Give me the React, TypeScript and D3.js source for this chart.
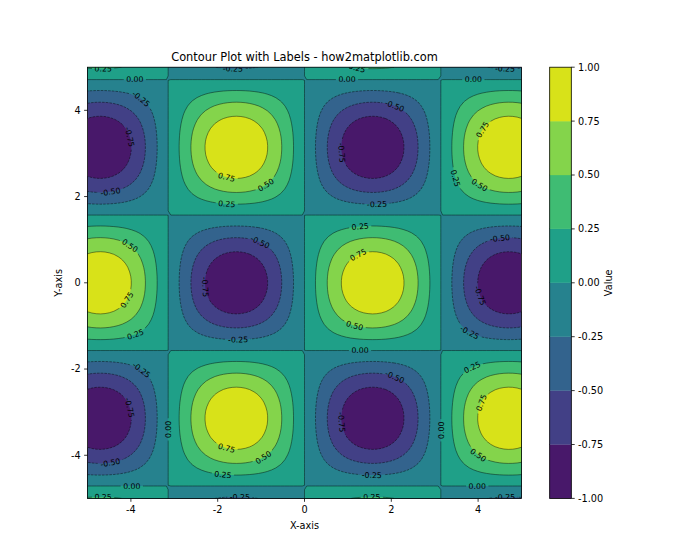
import React, { useMemo } from "react";
import * as d3 from "d3";

const WIDTH = 700;
const HEIGHT = 560;
const xDomain = [-5, 5];
const yDomain = [-5, 5];
const gridSize = 100;
const levels = [-1, -0.75, -0.5, -0.25, 0, 0.25, 0.5, 0.75, 1];
const lineLevels = [-0.75, -0.5, -0.25, 0, 0.25, 0.5, 0.75];
const xTicks = [-4, -2, 0, 2, 4];
const yTicks = [-4, -2, 0, 2, 4];
const cbTicks = [-1, -0.75, -0.5, -0.25, 0, 0.25, 0.5, 0.75, 1];
const titleText = "Contour Plot with Labels - how2matplotlib.com";
const xLabelText = "X-axis";
const yLabelText = "Y-axis";
const cbLabelText = "Value";

// Contour label anchors (data coordinates)
const labelLevels = [
  0.25, 0, -0.25, -0.75, -0.5, -0.25, 0.75, 0.5, 0.25, 0.25,
  0, 0, -0.5, -0.75, -0.25, 0.25, 0.75, 0.25, 0.5, -0.25,
  0.5, 0.75, 0.25, -0.5, -0.75, -0.25, 0.75, 0.5, 0, -0.5,
  -0.75, -0.25, -0.25, -0.75, -0.5, 0, 0.25, 0, 0.75, 0.5,
  0.25, -0.25, -0.5, -0.75, -0.25, 0.25, 0, 0.25, 0.75, 0.5,
  0, -0.25,
];
const labelXs = [
  -4.64, -3.91, -3.74, -3.98, -4.48, -1.65, -1.79, -0.91, -1.79, 1.21,
  0.98, 3.89, 2.09, 0.88, 1.67, 1.28, 4.09, 3.53, 4.04, 4.62,
  -3.98, -4.09, -3.91, -1.02, -2.25, -1.53, 1.21, 1.16, 1.28, 4.5,
  4.09, 3.81, -3.74, -3.98, -4.48, -3.98, -4.64, -3.1, -1.79, -0.98,
  -1.88, -1.49, 2.09, 0.88, 1.55, 1.55, 3.19, 3.86, 4.09, 4.0,
  3.98, 4.62,
];
const labelYs = [
  4.98, 4.77, 4.3, 3.4, 2.16, 4.98, 2.47, 2.3, 1.86, 4.98,
  4.77, 4.77, 4.14, 3.02, 1.86, 1.35, 3.56, 2.44, 2.28, 4.98,
  0.93, -0.4, -1.16, 0.95, -0.09, -1.28, 0.7, -0.98, -1.53, 1.07,
  -0.28, -1.14, -2.0, -2.88, -4.14, -4.67, -4.97, -3.4, -3.81, -4.0,
  -4.44, -4.97, -2.16, -3.23, -4.44, -4.97, -3.42, -1.95, -2.79, -4.0,
  -4.67, -4.97,
];

const FONT = "DejaVu Sans, sans-serif";
const fmtLevel = (v: number) => (v < 0 ? "-" : "") + Math.abs(v).toFixed(2);
const fmtTick = (v: number) => (v < 0 ? "-" : "") + Math.abs(v).toString();

type Pt = [number, number];

export default function App() {
  const left = 87.5, right = 521.5, top = 67.2, bottom = 498.4;
  const cbLeft = 549.7, cbRight = 571.3;
  const x = d3.scaleLinear().domain(xDomain).range([left, right]);
  const y = d3.scaleLinear().domain(yDomain).range([bottom, top]);
  const cbY = d3.scaleLinear().domain([levels[0], levels[levels.length - 1]]).range([bottom, top]);

  const bandColors = d3.range(levels.length - 1).map((k) =>
    d3.interpolateViridis(((levels[k] + levels[k + 1]) / 2 - levels[0]) / (levels[levels.length - 1] - levels[0]))
  );

  const computed = useMemo(() => {
    const stepX = (xDomain[1] - xDomain[0]) / (gridSize - 1);
    const stepY = (yDomain[1] - yDomain[0]) / (gridSize - 1);
    const gxs = d3.range(gridSize).map((i) => xDomain[0] + i * stepX);
    const gys = d3.range(gridSize).map((j) => yDomain[0] + j * stepY);
    const values: number[] = new Array(gridSize * gridSize);
    for (let j = 0; j < gridSize; j++)
      for (let i = 0; i < gridSize; i++) values[j * gridSize + i] = Math.sin(gxs[i]) * Math.cos(gys[j]);
    const gen = d3.contours().size([gridSize, gridSize]);
    const toPx = (p: number[]): Pt => [
      x(xDomain[0] + (p[0] - 0.5) * stepX),
      y(yDomain[0] + (p[1] - 0.5) * stepY),
    ];
    const ringsFor = (t: number): Pt[][] => {
      const c = gen.contour(values, t);
      const rings: Pt[][] = [];
      c.coordinates.forEach((poly: number[][][]) => poly.forEach((ring) => rings.push(ring.map(toPx))));
      return rings;
    };
    const ringPath = (rings: Pt[][]) =>
      rings.map((r) => "M" + r.map((p) => p[0].toFixed(2) + "," + p[1].toFixed(2)).join("L") + "Z").join("");

    const fills = d3.range(1, levels.length - 1).map((k) => ({
      color: bandColors[k],
      d: ringPath(ringsFor(levels[k])),
    }));
    const lineRings = new Map<number, Pt[][]>();
    lineLevels.forEach((lv) => lineRings.set(lv, ringsFor(lv)));
    const lines = lineLevels.map((lv) => ({ level: lv, d: ringPath(lineRings.get(lv)!) }));

    const canvas = document.createElement("canvas");
    const ctx = canvas.getContext("2d")!;
    ctx.font = "7.78px DejaVu Sans";

    const inside = (p: Pt) => p[0] >= left - 1 && p[0] <= right + 1 && p[1] >= top - 1 && p[1] <= bottom + 1;
    const labels = labelLevels.map((lv, idx) => {
      const target: Pt = [x(labelXs[idx]), y(labelYs[idx])];
      const rings = lineRings.get(lv) || [];
      let best = Infinity;
      let bestPt: Pt = target;
      let bestRing: Pt[] | null = null;
      let bestIdx = 0;
      rings.forEach((r) => {
        for (let i = 0; i < r.length - 1; i++) {
          const a = r[i], b = r[i + 1];
          if (!inside(a) || !inside(b)) continue;
          const dx = b[0] - a[0], dy = b[1] - a[1];
          const len2 = dx * dx + dy * dy || 1e-9;
          let t = ((target[0] - a[0]) * dx + (target[1] - a[1]) * dy) / len2;
          t = Math.max(0, Math.min(1, t));
          const p: Pt = [a[0] + t * dx, a[1] + t * dy];
          const d2 = (p[0] - target[0]) ** 2 + (p[1] - target[1]) ** 2;
          if (d2 < best) {
            best = d2;
            bestPt = p;
            bestRing = r;
            bestIdx = i;
          }
        }
      });
      let angle = 0;
      if (bestRing) {
        const r = bestRing as Pt[];
        const n = r.length - 1;
        const a = r[(bestIdx - 2 + n * 4) % n];
        const b = r[(bestIdx + 3) % n];
        angle = (Math.atan2(b[1] - a[1], b[0] - a[0]) * 180) / Math.PI;
        if (angle > 90) angle -= 180;
        if (angle < -90) angle += 180;
      }
      const text = fmtLevel(lv);
      const w = ctx.measureText(text).width;
      return { x: bestPt[0], y: bestPt[1], angle, text, w };
    });
    return { fills, lines, labels };
  }, []);

  return (
    <svg
      width={WIDTH}
      height={HEIGHT}
      style={{ position: "absolute", left: 0, top: 0, background: "#fff" }}
      fontFamily={FONT}
    >
      <defs>
        <clipPath id="plotClip">
          <rect x={left} y={top} width={right - left} height={bottom - top} />
        </clipPath>
        <mask id="labelMask" maskUnits="userSpaceOnUse" x={0} y={0} width={WIDTH} height={HEIGHT}>
          <rect x={0} y={0} width={WIDTH} height={HEIGHT} fill="#fff" />
          {computed.labels.map((l, i) => (
            <rect
              key={i}
              x={-l.w / 2 - 2.5}
              y={-3.5}
              width={l.w + 5}
              height={7}
              fill="#000"
              transform={`translate(${l.x},${l.y}) rotate(${l.angle})`}
            />
          ))}
        </mask>
      </defs>
      <rect x={0} y={0} width={WIDTH} height={HEIGHT} fill="#fff" />
      <g clipPath="url(#plotClip)">
        <rect x={left} y={top} width={right - left} height={bottom - top} fill={bandColors[0]} />
        {computed.fills.map((f, i) => (
          <path key={i} d={f.d} fill={f.color} fillRule="evenodd" stroke="none" />
        ))}
        <g mask="url(#labelMask)">
          {computed.lines.map((l, i) => (
            <path
              key={i}
              d={l.d}
              fill="none"
              stroke="#000"
              strokeWidth={0.5}
              strokeOpacity={0.85}
              strokeDasharray={l.level < 0 ? "2.6 1.1" : undefined}
            />
          ))}
        </g>
        {computed.labels.map((l, i) => (
          <text
            key={i}
            transform={`translate(${l.x},${l.y}) rotate(${l.angle})`}
            textAnchor="middle"
            dy="0.36em"
            fontSize={7.78}
            fill="#000"
          >
            {l.text}
          </text>
        ))}
      </g>
      <rect x={left} y={top} width={right - left} height={bottom - top} fill="none" stroke="#000" strokeWidth={0.78} />
      {xTicks.map((t) => (
        <g key={"xt" + t}>
          <line x1={x(t)} x2={x(t)} y1={bottom} y2={bottom + 3.4} stroke="#000" strokeWidth={0.78} />
          <text x={x(t)} y={bottom + 6.8} dy="0.76em" textAnchor="middle" fontSize={9.72}>
            {fmtTick(t)}
          </text>
        </g>
      ))}
      {yTicks.map((t) => (
        <g key={"yt" + t}>
          <line x1={left - 3.4} x2={left} y1={y(t)} y2={y(t)} stroke="#000" strokeWidth={0.78} />
          <text x={left - 6.8} y={y(t)} dy="0.35em" textAnchor="end" fontSize={9.72}>
            {fmtTick(t)}
          </text>
        </g>
      ))}
      <text x={(left + right) / 2} y={61.4} textAnchor="middle" fontSize={11.4}>
        {titleText}
      </text>
      <text x={(left + right) / 2} y={529} textAnchor="middle" fontSize={9.72}>
        {xLabelText}
      </text>
      <text transform={`translate(61.5,${(top + bottom) / 2}) rotate(-90)`} textAnchor="middle" fontSize={9.72}>
        {yLabelText}
      </text>
      {d3.range(levels.length - 1).map((k) => (
        <rect
          key={"cb" + k}
          x={cbLeft}
          y={cbY(levels[k + 1])}
          width={cbRight - cbLeft}
          height={cbY(levels[k]) - cbY(levels[k + 1])}
          fill={bandColors[k]}
          stroke={bandColors[k]}
          strokeWidth={0.3}
        />
      ))}
      <rect x={cbLeft} y={top} width={cbRight - cbLeft} height={bottom - top} fill="none" stroke="#000" strokeWidth={0.78} />
      {cbTicks.map((t) => (
        <g key={"ct" + t}>
          <line x1={cbRight} x2={cbRight + 3.4} y1={cbY(t)} y2={cbY(t)} stroke="#000" strokeWidth={0.78} />
          <text x={cbRight + 6.8} y={cbY(t)} dy="0.35em" textAnchor="start" fontSize={9.72}>
            {fmtLevel(t)}
          </text>
        </g>
      ))}
      <text transform={`translate(612,${(top + bottom) / 2}) rotate(-90)`} textAnchor="middle" fontSize={9.72}>
        {cbLabelText}
      </text>
    </svg>
  );
}
